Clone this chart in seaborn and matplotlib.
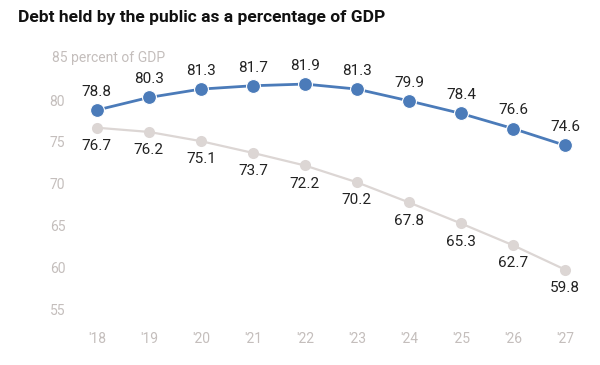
import matplotlib
matplotlib.use("Agg")
import matplotlib.pyplot as plt
import matplotlib.transforms as mtransforms
import seaborn as sns
import pandas as pd

years = ["'18", "'19", "'20", "'21", "'22", "'23", "'24", "'25", "'26", "'27"]
blue_vals = [78.8, 80.3, 81.3, 81.7, 81.9, 81.3, 79.9, 78.4, 76.6, 74.6]
gray_vals = [76.7, 76.2, 75.1, 73.7, 72.2, 70.2, 67.8, 65.3, 62.7, 59.8]
yticks = [55, 60, 65, 70, 75, 80]

sns.set_style("white")
plt.rcParams["font.family"] = ["Roboto", "DejaVu Sans"]

df = pd.DataFrame({"x": range(len(years)), "blue": blue_vals, "gray": gray_vals})

fig = plt.figure(figsize=(6, 3.65), dpi=100)
ax = fig.add_axes([0.118, 0.128, 0.867, 0.736])

blue = "#4b7bb9"
gray = "#dcd6d4"
sns.lineplot(data=df, x="x", y="gray", ax=ax, color=gray, lw=1.6,
             marker="o", markersize=8, markeredgewidth=0, zorder=2)
sns.lineplot(data=df, x="x", y="blue", ax=ax, color=blue, lw=2,
             marker="o", markersize=10, markeredgecolor="white",
             markeredgewidth=0.8, zorder=3)

for i, v in enumerate(blue_vals):
    ax.annotate(f"{v}", (i, v), xytext=(0, 8), textcoords="offset points",
                ha="center", va="bottom", fontsize=11, color="#222222")
for i, v in enumerate(gray_vals):
    ax.annotate(f"{v}", (i, v), xytext=(0, -8), textcoords="offset points",
                ha="center", va="top", fontsize=11, color="#222222")

ax.set_xlim(-0.5, 9.5)
ax.set_ylim(54, 86)
ax.set_xticks(range(len(years)))
ax.set_xticklabels(years)
ax.set_yticks(yticks)
ax.set_yticklabels([str(t) for t in yticks])
ax.tick_params(axis="both", length=0, labelsize=10, labelcolor="#c4bebc")
ax.tick_params(axis="x", pad=10)
ax.tick_params(axis="y", pad=4)
ax.set_xlabel("")
ax.set_ylabel("")
for s in ax.spines.values():
    s.set_visible(False)

trans = mtransforms.blended_transform_factory(ax.transAxes, ax.transData)
ax.text(-0.037, 85, "85 percent of GDP", transform=trans, ha="left",
        va="center", fontsize=10, color="#c4bebc")

fig.text(0.03, 0.953, "Debt held by the public as a percentage of GDP",
         ha="left", va="center", fontsize=12.5, fontweight="bold", color="#111111")

fig.savefig("out.png", dpi=100, facecolor="white")
